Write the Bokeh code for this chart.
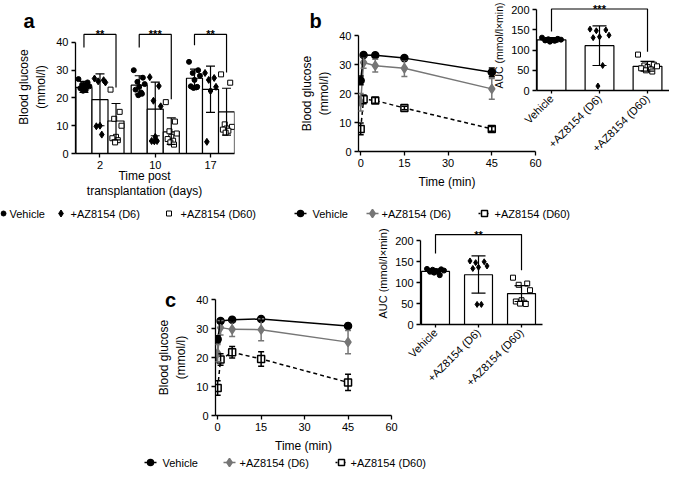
import math
from bokeh.plotting import figure
from bokeh.models import (Range1d, FixedTicker, Whisker, TeeHead, ColumnDataSource)
from bokeh.layouts import column
from bokeh.embed import file_html
from bokeh.resources import INLINE
from bokeh.core.properties import value

FONT = "Liberation Sans"
GRAY = "#767676"

# ---------------- data: panel a ----------------
a_day_labels = ["2", "10", "17"]
series_names = ["Vehicle", "+AZ8154 (D6)", "+AZ8154 (D60)"]
a_veh_mean = [23.8, 24.6, 27.1]
a_veh_lo = [22.0, 21.4, 23.4]
a_veh_hi = [26.0, 28.0, 30.4]
a_d6_mean = [19.4, 16.0, 23.1]
a_d6_lo = [10.0, 6.4, 14.8]
a_d6_hi = [28.7, 25.7, 31.5]
a_d60_mean = [11.7, 7.8, 15.0]
a_d60_lo = [4.9, 3.3, 6.6]
a_d60_hi = [18.0, 12.8, 23.5]
a_veh_pts = [[26.8, 25.6, 24.8, 24.2, 23.8, 23.5, 23.0, 22.6, 25.0],
             [30.0, 27.3, 25.8, 25.0, 24.0, 23.0, 22.0, 21.0, 21.5],
             [33.0, 30.0, 29.0, 28.0, 26.5, 24.2, 23.8, 23.6, 24.0]]
a_d6_pts = [[27.0, 26.4, 26.0, 25.6, 10.0, 9.8, 6.8],
            [27.5, 24.3, 19.0, 17.0, 6.0, 4.5, 4.5, 4.4],
            [29.0, 27.2, 26.5, 24.0, 22.5, 4.2]]
a_d60_pts = [[23.0, 15.0, 12.5, 10.0, 6.0, 5.5, 4.8, 4.0],
             [18.5, 11.5, 8.0, 7.2, 6.0, 5.2, 4.6, 4.0, 3.2],
             [28.5, 25.5, 10.5, 9.6, 9.0, 8.6, 8.2, 7.5]]
a_stars = ["**", "***", "**"]
a_bracket_top = [42.9, 42.9, 42.9]
a_bracket_left = [38.2, 38.2, 39.0]
a_bracket_right = [23.8, 19.5, 29.2]

# ---------------- data: panel b ----------------
t_min = [0, 1, 5, 15, 45]
b_veh = [24.5, 33.3, 33.2, 32.2, 27.3]
b_veh_err = [1.5, 0.6, 0.6, 0.6, 1.5]
b_d6 = [17.0, 30.7, 29.6, 28.7, 21.6]
b_d6_err = [3.0, 2.0, 2.2, 2.8, 3.6]
b_d60 = [7.8, 18.0, 17.6, 15.0, 7.8]
b_d60_err = [2.0, 1.5, 1.0, 0.6, 0.8]

bauc_mean = [125.5, 111.0, 60.0]
bauc_lo = [120.0, 62.0, 48.0]
bauc_hi = [131.0, 160.0, 72.0]
bauc_veh_pts = [131, 128, 127, 126, 125, 124, 123, 121, 126]
bauc_d6_pts = [152, 150, 148, 137, 133, 131, 62, 11]
bauc_d60_pts = [89, 64, 62, 60, 58, 55, 52, 50, 47]
bauc_star = "***"
bauc_bracket = [146.0, 202.0, 96.0]   # left leg bottom, top, right leg bottom

# ---------------- data: panel c ----------------
c_veh = [26.3, 32.6, 33.0, 33.3, 30.9]
c_veh_err = [1.2, 0.8, 0.8, 0.6, 0.8]
c_d6 = [21.5, 30.3, 29.7, 29.6, 25.3]
c_d6_err = [3.0, 2.5, 2.5, 3.8, 4.0]
c_d60 = [9.5, 19.3, 21.8, 19.5, 11.4]
c_d60_err = [2.5, 2.0, 2.0, 2.5, 2.8]

cauc_mean = [127.0, 119.0, 74.0]
cauc_lo = [121.0, 75.0, 55.0]
cauc_hi = [133.0, 164.0, 93.0]
cauc_veh_pts = [133, 132, 131, 129, 128, 127, 126, 124, 118]
cauc_d6_pts = [152, 150, 148, 140, 137, 134, 48, 48]
cauc_d60_pts = [112, 98, 95, 82, 58, 55, 52, 50, 49]
cauc_star = "**"
cauc_bracket = [170.0, 215.0, 130.0]

JIT = [-0.9, 0.6, -0.3, 0.9, 0.0, -0.6, 0.3, -0.15, 0.45]

MARK = {
    "Vehicle": dict(marker="circle", fill_color="black", line_color="black"),
    "+AZ8154 (D6)": dict(marker="diamond", fill_color="black", line_color="black"),
    "+AZ8154 (D60)": dict(marker="square", fill_color="white", line_color="black"),
}
TC_STYLE = {
    "Vehicle": dict(color="black", marker="circle", fill="black", dash="solid", size=7),
    "+AZ8154 (D6)": dict(color=GRAY, marker="diamond", fill=GRAY, dash="solid", size=9),
    "+AZ8154 (D60)": dict(color="black", marker="square", fill="white", dash="4 3", size=7),
}


def style(p):
    p.grid.visible = False
    p.outline_line_color = None
    p.background_fill_color = None
    p.border_fill_color = None
    p.frame_align = False
    for ax in p.axis:
        ax.axis_line_width = 1.3
        ax.axis_line_color = "black"
        ax.major_tick_line_width = 1.3
        ax.major_tick_line_color = "black"
        ax.major_tick_in = 0
        ax.major_tick_out = 4
        ax.minor_tick_line_color = None
        ax.major_label_text_font = FONT
        ax.major_label_text_font_size = "11px"
        ax.major_label_text_color = "black"
        ax.major_label_standoff = 3
        ax.axis_label_text_font = FONT
        ax.axis_label_text_font_size = "12px"
        ax.axis_label_text_font_style = "normal"
        ax.axis_label_text_color = "black"
        ax.axis_label_standoff = 5


def base_fig(W, H, left, right, top, bottom, xr, yr, axes=True):
    p = figure(width=W, height=H, x_range=xr, y_range=yr, output_backend="svg",
               toolbar_location=None,
               x_axis_location="below" if axes else None,
               y_axis_location="left" if axes else None,
               min_border_left=left, min_border_right=right,
               min_border_top=top, min_border_bottom=bottom)
    style(p)
    return p


def whisk(p, xs, lo, hi, color, width, size):
    src = ColumnDataSource(dict(x=xs, lo=lo, hi=hi))
    w = Whisker(base="x", lower="lo", upper="hi", source=src, line_color=color,
                line_width=width, level="annotation",
                upper_head=TeeHead(size=size, line_color=color, line_width=width),
                lower_head=TeeHead(size=size, line_color=color, line_width=width))
    p.add_layout(w)


# ================= background sheet: panel letters, a's x title, legends =================
CW, CH = 669, 471
bg = base_fig(CW, CH, 0, 0, 0, 0, Range1d(0, CW), Range1d(CH, 0), axes=False)
bg.text(x=[28.5, 315, 170], y=[20, 20, 299], text=["a", "b", "c"],
        text_font=value(FONT), text_font_size="20px", text_font_style="bold",
        text_align="center", text_baseline="middle", text_color="black")
bg.text(x=[144, 144], y=[175, 190], text=["Time post", "transplantation (days)"],
        text_font=value(FONT), text_font_size="12px", text_align="center",
        text_baseline="middle", text_color="black")

# legend rows: (row y, kind, [(marker x, text x) per series])
LEG_ROWS = [
    (213, "a", [(3, 9), (60.5, 70), (168.5, 180)]),
    (213, "tc", [(300, 312), (372, 381), (484, 494)]),
    (462, "tc", [(150, 162), (229, 239), (341, 350)]),
]
for ly, kind, slots in LEG_ROWS:
    for name, (mx, tx) in zip(series_names, slots):
        if kind == "a":
            bg.scatter([mx], [ly], size=7 if name == "+AZ8154 (D6)" else 5,
                       line_width=1, **MARK[name])
        else:
            st = TC_STYLE[name]
            bg.line([mx - 6, mx + 6], [ly, ly], line_color=st["color"], line_width=1.5,
                    line_dash="2 2" if st["dash"] != "solid" else "solid")
            bg.scatter([mx], [ly], marker=st["marker"], size=st["size"] - 1,
                       fill_color=st["fill"], line_color=st["color"], line_width=1.5)
        bg.text(x=[tx], y=[ly], text=[name], text_font=value(FONT), text_font_size="11px",
                text_align="left", text_baseline="middle", text_color="black")

# ================= panel a =================
a_bw = 0.29
pa = base_fig(240, 213, 75, 6, 20, 60, Range1d(-0.443, 2.434), Range1d(0, 47.9))
pa.xaxis.ticker = FixedTicker(ticks=[0, 1, 2])
pa.xaxis.major_label_overrides = {i: lab for i, lab in enumerate(a_day_labels)}
pa.yaxis.ticker = FixedTicker(ticks=[0, 10, 20, 30, 40])
pa.yaxis.bounds = (0, 40)
pa.yaxis.axis_label = "Blood glucose\n(mmol/l)"

a_series = [(a_veh_mean, a_veh_lo, a_veh_hi, a_veh_pts, "Vehicle", 5),
            (a_d6_mean, a_d6_lo, a_d6_hi, a_d6_pts, "+AZ8154 (D6)", 7),
            (a_d60_mean, a_d60_lo, a_d60_hi, a_d60_pts, "+AZ8154 (D60)", 5)]
for k, (mean, lo, hi, pts, name, sz) in enumerate(a_series):
    off = (k - 1) * a_bw
    xs = [g + off for g in range(len(a_day_labels))]
    pa.vbar(x=xs, top=mean, bottom=0, width=a_bw, fill_color="white",
            line_color="black", line_width=1.2)
for k, (mean, lo, hi, pts, name, sz) in enumerate(a_series):
    off = (k - 1) * a_bw
    xs = [g + off for g in range(len(a_day_labels))]
    whisk(pa, xs, lo, hi, "black", 1.2, 9)
    px, py = [], []
    for g, vals in enumerate(pts):
        for j, v in enumerate(vals):
            px.append(g + off + JIT[j % len(JIT)] * 0.11)
            py.append(v)
    pa.scatter(px, py, size=sz, line_width=1, **MARK[name])
bx, by = [], []
for g in range(len(a_day_labels)):
    bx.append([g - a_bw, g - a_bw, g + a_bw, g + a_bw])
    by.append([a_bracket_left[g], a_bracket_top[g], a_bracket_top[g], a_bracket_right[g]])
pa.multi_line(xs=bx, ys=by, line_color="black", line_width=1.2)
pa.text(x=[0, 1, 2], y=a_bracket_top, text=a_stars, text_align="center",
        text_baseline="alphabetic", text_font=value(FONT), text_font_size="11px",
        text_font_style="bold", text_color="black")


# ================= time course panels =================
def timecourse(W, H, left, right, top, bottom, series):
    p = base_fig(W, H, left, right, top, bottom, Range1d(-0.75, 60), Range1d(0, 40))
    p.xaxis.ticker = FixedTicker(ticks=[0, 15, 30, 45, 60])
    p.yaxis.ticker = FixedTicker(ticks=[0, 10, 20, 30, 40])
    p.yaxis.axis_label = "Blood glucose\n(mmol/l)"
    p.xaxis.axis_label = "Time (min)"
    for vals, errs, name in series:
        st = TC_STYLE[name]
        p.line(t_min, vals, line_color=st["color"], line_width=1.5, line_dash=st["dash"])
        whisk(p, t_min, [v - e for v, e in zip(vals, errs)],
              [v + e for v, e in zip(vals, errs)], st["color"], 1.5, 6)
        p.scatter(t_min, vals, marker=st["marker"], size=st["size"], fill_color=st["fill"],
                  line_color=st["color"], line_width=1.5)
    return p


pb = timecourse(277, 193, 88, 12, 35, 42, [
    (b_d60, b_d60_err, "+AZ8154 (D60)"),
    (b_d6, b_d6_err, "+AZ8154 (D6)"),
    (b_veh, b_veh_err, "Vehicle"),
])

pc = timecourse(269, 167, 81, 12, 9, 42, [
    (c_d60, c_d60_err, "+AZ8154 (D60)"),
    (c_d6, c_d6_err, "+AZ8154 (D6)"),
    (c_veh, c_veh_err, "Vehicle"),
])


# ================= AUC panels =================
def auc(W, H, left, right, top, bottom, xr, yr, means, los, his, pts_list, star, br, bw,
        spread, label_size):
    p = base_fig(W, H, left, right, top, bottom, xr, yr)
    p.yaxis.ticker = FixedTicker(ticks=[0, 50, 100, 150, 200])
    p.yaxis.bounds = (0, 200)
    p.yaxis.axis_label = "AUC (mmol/l\u00d7min)"
    p.yaxis.axis_label_text_font_size = label_size
    p.yaxis.axis_label_standoff = 3
    p.xaxis.ticker = FixedTicker(ticks=[0, 1, 2])
    p.xaxis.major_label_overrides = {i: n for i, n in enumerate(series_names)}
    p.xaxis.major_label_orientation = math.pi / 4
    p.xaxis.major_tick_out = 3
    xs = list(range(len(means)))
    p.vbar(x=xs, top=means, bottom=0, width=bw, fill_color="white",
           line_color="black", line_width=1.2)
    whisk(p, xs, los, his, "black", 1.2, 14)
    for g, (vals, name) in enumerate(zip(pts_list, series_names)):
        px = [g + JIT[j % len(JIT)] * spread for j in range(len(vals))]
        p.scatter(px, vals, size=6 if name == "+AZ8154 (D6)" else 5, line_width=1, **MARK[name])
    p.multi_line(xs=[[0, 0, 2, 2]], ys=[[br[0], br[1], br[1], br[2]]],
                 line_color="black", line_width=1.2)
    p.text(x=[1], y=[br[1]], text=[star], text_align="center", text_baseline="alphabetic",
           text_font=value(FONT), text_font_size="11px", text_font_style="bold",
           text_color="black")
    return p


pba = auc(203, 162, 70, 0, 0, 72, Range1d(-0.3125, 2.458), Range1d(0, 223),
          bauc_mean, bauc_lo, bauc_hi, [bauc_veh_pts, bauc_d6_pts, bauc_d60_pts],
          bauc_star, bauc_bracket, 0.6, 0.22, "10.5px")
pca = auc(202, 174, 75, 5, 0, 72, Range1d(-0.349, 2.488), Range1d(0, 244),
          cauc_mean, cauc_lo, cauc_hi, [cauc_veh_pts, cauc_d6_pts, cauc_d60_pts],
          cauc_star, cauc_bracket, 0.65, 0.22, "11px")

# ================= absolute placement (stacked, transparent) =================
placed = [
    (bg, 0, 0),
    (pa, 0, 0),
    (pb, 270, 0),
    (pba, 466, 0),
    (pc, 134, 290),
    (pca, 345, 222),
]
prev_bottom = 0
for f, X, Y in placed:
    f.margin = (Y - prev_bottom, 0, 0, X)
    prev_bottom = Y + f.height

root = column(*[f for f, _, _ in placed], spacing=0)

open("out.html", "w").write(file_html(root, INLINE))
